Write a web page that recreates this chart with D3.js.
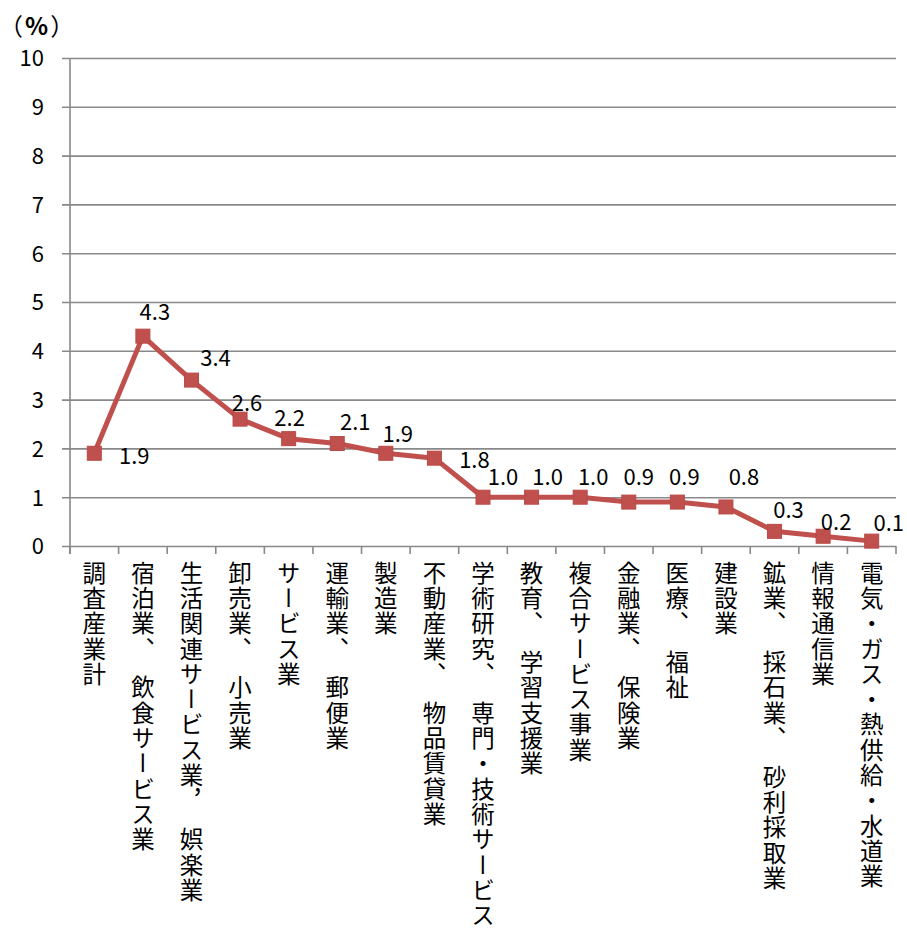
<!DOCTYPE html>
<html><head><meta charset="utf-8">
<script src="https://cdn.jsdelivr.net/npm/d3@7"></script>
<style>
html,body{margin:0;padding:0;background:#fff;}
svg{display:block;}
</style></head>
<body>
<script>
const categories = [
  "調査産業計",
  "宿泊業、\u2002飲食サービス業",
  "生活関連サービス業，\u2002娯楽業",
  "卸売業、\u2002小売業",
  "サービス業",
  "運輸業、\u2002郵便業",
  "製造業",
  "不動産業、\u2002物品賃貸業",
  "学術研究、\u2002専門・技術サービス",
  "教育、\u2002学習支援業",
  "複合サービス事業",
  "金融業、\u2002保険業",
  "医療、\u2002福祉",
  "建設業",
  "鉱業、\u2002採石業、\u2002砂利採取業",
  "情報通信業",
  "電気・ガス・熱供給・水道業"
];
const values = [1.9, 4.3, 3.4, 2.6, 2.2, 2.1, 1.9, 1.8, 1.0, 1.0, 1.0, 0.9, 0.9, 0.8, 0.3, 0.2, 0.1];
const yTicks = [0,1,2,3,4,5,6,7,8,9,10];
const unitLabel = "%";

// data-label offsets relative to marker (layout, not data)
const labelOffsets = [[40,3],[12,-24],[24,-22],[7,-16],[1,-21],[18,-21],[12,-19],[40,2],
  [20,-20],[16,-20],[13,-20],[10,-25],[7,-25],[18,-30],[14,-21],[13,-14],[17,-18]];

const W = 907, H = 930;
const pL = 70, pR = 896, pT = 58, pB = 546;
const color = "#C0504D", grid = "#898989";
const fontNum = "'Noto Sans CJK JP','Noto Sans',sans-serif";

const svg = d3.select("body").append("svg").attr("width", W).attr("height", H);

const x = d3.scaleBand().domain(categories).range([pL, pR]).paddingInner(0).paddingOuter(0);
const y = d3.scaleLinear().domain([0, 10]).range([pB, pT]);

// gridlines + y axis
const yAxis = d3.axisLeft(y).tickValues(yTicks).tickSize(pR - pL + 8).tickFormat(d => d);
const gy = svg.append("g").attr("transform", `translate(${pR},0)`).call(yAxis);
gy.select(".domain").remove();
gy.selectAll(".tick line").attr("stroke", grid).attr("stroke-width", 1.6);
gy.selectAll(".tick text").attr("x", -(pR - pL) - 26).attr("dy", "0.36em")
  .attr("font-family", fontNum).attr("font-size", 22).attr("fill", "#000").attr("text-anchor", "end");

// vertical axis line
svg.append("line").attr("x1", pL).attr("x2", pL).attr("y1", pT).attr("y2", pB + 8)
  .attr("stroke", grid).attr("stroke-width", 1.6);

// x axis ticks at band boundaries
const bounds = categories.map(c => x(c)).concat([x(categories[categories.length-1]) + x.bandwidth()]);
svg.append("g").selectAll("line").data(bounds).join("line")
  .attr("x1", d => d).attr("x2", d => d).attr("y1", pB).attr("y2", pB + 8)
  .attr("stroke", grid).attr("stroke-width", 1.6);

// unit label
const ut = svg.append("text").attr("x", -1).attr("y", 35).attr("font-family", fontNum)
  .attr("font-size", 24).attr("fill", "#000").style("letter-spacing", "2px");
ut.append("tspan").text("（");
ut.append("tspan").attr("font-weight", "bold").text(unitLabel);
ut.append("tspan").text("）");

// x labels vertical
svg.append("g").selectAll("text").data(categories).join("text")
  .attr("x", d => x(d) + x.bandwidth() / 2)
  .attr("y", 561)
  .attr("font-family", "'Noto Sans CJK JP',sans-serif")
  .attr("font-size", 23.5)
  .attr("fill", "#000")
  .style("writing-mode", "vertical-rl")
  .style("letter-spacing", "1.8px")
  .text(d => d);

// line
const cx = (d, i) => x(categories[i]) + x.bandwidth() / 2;
const line = d3.line().x((d, i) => cx(d, i)).y(d => y(d));
svg.append("path").datum(values).attr("d", line).attr("fill", "none")
  .attr("stroke", color).attr("stroke-width", 5).attr("stroke-linejoin", "round");

// markers
const ms = 14;
svg.append("g").selectAll("rect").data(values).join("rect")
  .attr("x", (d, i) => cx(d, i) - ms / 2).attr("y", d => y(d) - ms / 2)
  .attr("width", ms).attr("height", ms)
  .attr("fill", color).attr("stroke", "#B84A47").attr("stroke-width", 1);

// data labels
svg.append("g").selectAll("text").data(values).join("text")
  .attr("x", (d, i) => cx(d, i) + labelOffsets[i][0])
  .attr("y", (d, i) => y(d) + labelOffsets[i][1])
  .attr("dy", "0.36em")
  .attr("text-anchor", "middle")
  .attr("font-family", fontNum).attr("font-size", 22).attr("fill", "#000")
  .text(d => d3.format(".1f")(d));
</script>
</body></html>
